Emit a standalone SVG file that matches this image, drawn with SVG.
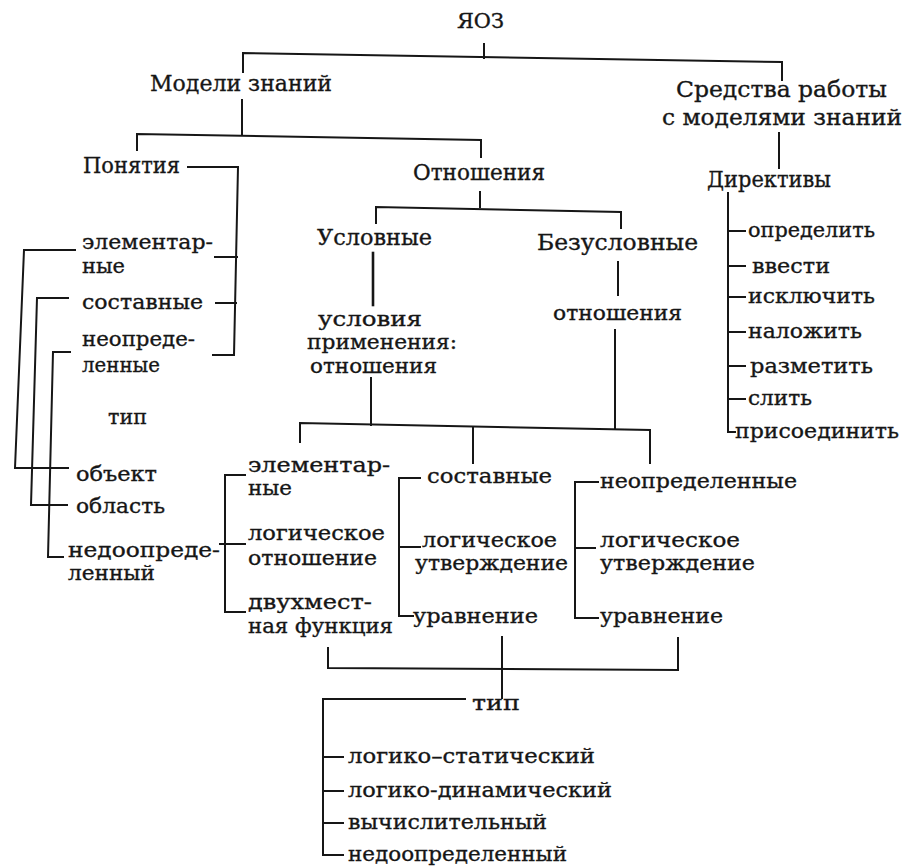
<svg xmlns="http://www.w3.org/2000/svg" width="908" height="868" viewBox="0 0 908 868">
<style>
text{font-family:"DejaVu Serif","Liberation Serif",serif;fill:#161616;stroke:#161616;stroke-width:0.35px}
.h{font-size:23px}
.s{font-size:21px}
.c path{stroke:#161616;stroke-width:2;fill:none;stroke-linecap:square}
</style>
<rect width="908" height="868" fill="#ffffff"/>
<g class="c" id="connectors">
<path d="M484,44 V58"/>
<path d="M243,72 V53 L782,62 V80"/>
<path d="M242,100 V135"/>
<path d="M137,150 V134 L481,140 V157"/>
<path d="M779,133 V168"/>
<path d="M728,193 V432 H735"/>
<path d="M728,231 H745 M728,266 H745 M728,297 H745 M728,332 H745 M728,366 H745 M728,399 H745"/>
<path d="M188,167 H238 L234,355 H213"/>
<path d="M215,257 H237 M216,303 H236"/>
<path d="M75,250 H24 L15,468 H68"/>
<path d="M68,298 H37 L31,505 H67"/>
<path d="M70,352 H53 L48,557 H63"/>
<path d="M480,192 V207"/>
<path d="M376,223 V207 L621,212 V228"/>
<path d="M373,253 V305" style="stroke-width:2.6"/>
<path d="M618,262 V295"/>
<path d="M615,330 V428"/>
<path d="M371,378 V425"/>
<path d="M300,442 V423 L650,430 V463"/>
<path d="M473,427 V463"/>
<path d="M245,475 H225 V612 H245"/>
<path d="M220,544 H245"/>
<path d="M420,478 H399 V616 H413"/>
<path d="M399,547 H420"/>
<path d="M598,482 H575 V618 H598"/>
<path d="M575,548 H595"/>
<path d="M328,648 V668 L678,670 V638"/>
<path d="M502,637 V698"/>
<path d="M465,699 H323 V855 H343"/>
<path d="M323,757 H343 M323,791 H343 M323,823 H343"/>
</g>
<g id="n-yoz"><text class="s" x="457" y="28" textLength="47" lengthAdjust="spacingAndGlyphs">ЯОЗ</text></g>
<g id="n-models"><text class="h" x="150" y="91" textLength="182" lengthAdjust="spacingAndGlyphs">Модели знаний</text></g>
<g id="n-tools">
<text class="h" x="676" y="97" textLength="211" lengthAdjust="spacingAndGlyphs">Средства работы</text>
<text class="h" x="662" y="125" textLength="240" lengthAdjust="spacingAndGlyphs">с моделями знаний</text>
</g>
<g id="n-concepts"><text class="h" x="83" y="173" textLength="97" lengthAdjust="spacingAndGlyphs">Понятия</text></g>
<g id="n-relations"><text class="h" x="413" y="180" textLength="132" lengthAdjust="spacingAndGlyphs">Отношения</text></g>
<g id="n-directives"><text class="h" x="707" y="187" textLength="124" lengthAdjust="spacingAndGlyphs">Директивы</text></g>
<g id="n-dir-define"><text class="s" x="748" y="237" textLength="127" lengthAdjust="spacingAndGlyphs">определить</text></g>
<g id="n-dir-enter"><text class="s" x="752" y="273" textLength="78" lengthAdjust="spacingAndGlyphs">ввести</text></g>
<g id="n-dir-exclude"><text class="s" x="748" y="303" textLength="127" lengthAdjust="spacingAndGlyphs">исключить</text></g>
<g id="n-dir-impose"><text class="s" x="748" y="338" textLength="114" lengthAdjust="spacingAndGlyphs">наложить</text></g>
<g id="n-dir-mark"><text class="s" x="750" y="373" textLength="123" lengthAdjust="spacingAndGlyphs">разметить</text></g>
<g id="n-dir-merge"><text class="s" x="748" y="405" textLength="64" lengthAdjust="spacingAndGlyphs">слить</text></g>
<g id="n-dir-attach"><text class="s" x="735" y="438" textLength="164" lengthAdjust="spacingAndGlyphs">присоединить</text></g>
<g id="n-c-elem">
<text class="s" x="82" y="249" textLength="131" lengthAdjust="spacingAndGlyphs">элементар-</text>
<text class="s" x="82" y="273" textLength="43" lengthAdjust="spacingAndGlyphs">ные</text>
</g>
<g id="n-c-compound"><text class="s" x="82" y="309" textLength="121" lengthAdjust="spacingAndGlyphs">составные</text></g>
<g id="n-c-undef">
<text class="s" x="82" y="346" textLength="113" lengthAdjust="spacingAndGlyphs">неопреде-</text>
<text class="s" x="82" y="372" textLength="78" lengthAdjust="spacingAndGlyphs">ленные</text>
</g>
<g id="n-type1"><text class="s" x="108" y="424" textLength="39" lengthAdjust="spacingAndGlyphs">тип</text></g>
<g id="n-object"><text class="s" x="76" y="481" textLength="81" lengthAdjust="spacingAndGlyphs">объект</text></g>
<g id="n-area"><text class="s" x="76" y="513" textLength="89" lengthAdjust="spacingAndGlyphs">область</text></g>
<g id="n-underdef">
<text class="s" x="68" y="557" textLength="152" lengthAdjust="spacingAndGlyphs">недоопреде-</text>
<text class="s" x="68" y="580" textLength="87" lengthAdjust="spacingAndGlyphs">ленный</text>
</g>
<g id="n-cond"><text class="h" x="317" y="245" textLength="115" lengthAdjust="spacingAndGlyphs">Условные</text></g>
<g id="n-uncond"><text class="h" x="537" y="250" textLength="161" lengthAdjust="spacingAndGlyphs">Безусловные</text></g>
<g id="n-cond-app">
<text class="s" x="318" y="326" textLength="104" lengthAdjust="spacingAndGlyphs">условия</text>
<text class="s" x="307" y="349" textLength="150" lengthAdjust="spacingAndGlyphs">применения:</text>
<text class="s" x="310" y="373" textLength="127" lengthAdjust="spacingAndGlyphs">отношения</text>
</g>
<g id="n-uncond-rel"><text class="s" x="553" y="320" textLength="129" lengthAdjust="spacingAndGlyphs">отношения</text></g>
<g id="n-r-elem">
<text class="s" x="248" y="472" textLength="142" lengthAdjust="spacingAndGlyphs">элементар-</text>
<text class="s" x="248" y="495" textLength="44" lengthAdjust="spacingAndGlyphs">ные</text>
</g>
<g id="n-r-logrel">
<text class="s" x="248" y="540" textLength="137" lengthAdjust="spacingAndGlyphs">логическое</text>
<text class="s" x="248" y="565" textLength="129" lengthAdjust="spacingAndGlyphs">отношение</text>
</g>
<g id="n-r-func">
<text class="s" x="248" y="609" textLength="124" lengthAdjust="spacingAndGlyphs">двухмест-</text>
<text class="s" x="248" y="633" textLength="145" lengthAdjust="spacingAndGlyphs">ная функция</text>
</g>
<g id="n-r-compound"><text class="s" x="427" y="483" textLength="125" lengthAdjust="spacingAndGlyphs">составные</text></g>
<g id="n-r-logstmt1">
<text class="s" x="422" y="547" textLength="135" lengthAdjust="spacingAndGlyphs">логическое</text>
<text class="s" x="415" y="570" textLength="153" lengthAdjust="spacingAndGlyphs">утверждение</text>
</g>
<g id="n-r-eq1"><text class="s" x="413" y="623" textLength="125" lengthAdjust="spacingAndGlyphs">уравнение</text></g>
<g id="n-r-undef"><text class="s" x="600" y="488" textLength="197" lengthAdjust="spacingAndGlyphs">неопределенные</text></g>
<g id="n-r-logstmt2">
<text class="s" x="600" y="547" textLength="140" lengthAdjust="spacingAndGlyphs">логическое</text>
<text class="s" x="600" y="570" textLength="155" lengthAdjust="spacingAndGlyphs">утверждение</text>
</g>
<g id="n-r-eq2"><text class="s" x="600" y="623" textLength="123" lengthAdjust="spacingAndGlyphs">уравнение</text></g>
<g id="n-type2"><text class="s" x="472" y="710" textLength="48" lengthAdjust="spacingAndGlyphs">тип</text></g>
<g id="n-t-static"><text class="s" x="348" y="763" textLength="247" lengthAdjust="spacingAndGlyphs">логико–статический</text></g>
<g id="n-t-dynamic"><text class="s" x="348" y="797" textLength="264" lengthAdjust="spacingAndGlyphs">логико-динамический</text></g>
<g id="n-t-comp"><text class="s" x="348" y="829" textLength="199" lengthAdjust="spacingAndGlyphs">вычислительный</text></g>
<g id="n-t-underdef"><text class="s" x="348" y="861" textLength="219" lengthAdjust="spacingAndGlyphs">недоопределенный</text></g>
</svg>
